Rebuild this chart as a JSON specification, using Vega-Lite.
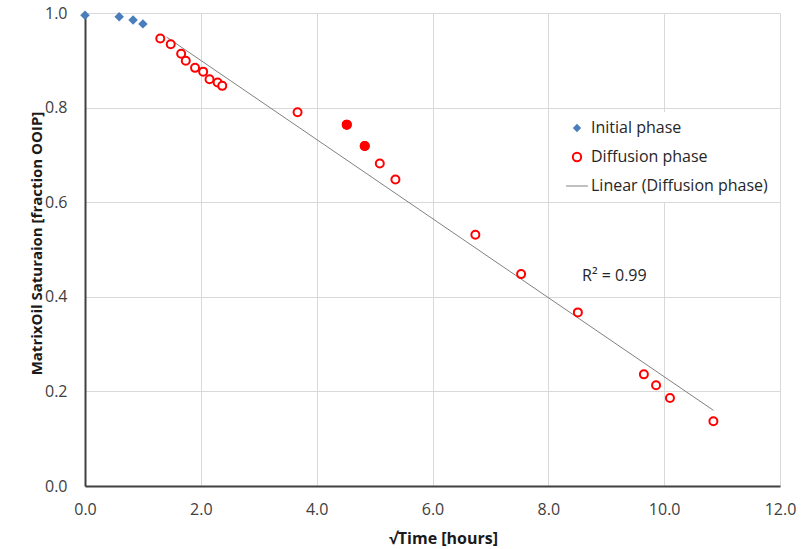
{
  "$schema": "https://vega.github.io/schema/vega-lite/v6.json",
  "width": 695,
  "height": 473,
  "autosize": "none",
  "padding": {"left": 85, "top": 13, "right": 25, "bottom": 63},
  "background": "white",
  "config": {
    "view": {"stroke": null},
    "font": "Open Sans",
    "axis": {
      "gridColor": "#d9d9d9",
      "gridWidth": 1,
      "domainColor": "#404040",
      "domainWidth": 2,
      "ticks": false,
      "labelFlush": false,
      "labelOverlap": false,
      "labelFont": "Open Sans",
      "labelFontSize": 16,
      "labelColor": "#404040",
      "titleFont": "Open Sans",
      "titleFontSize": 15,
      "titleFontWeight": "bold",
      "titleColor": "#1a1a1a"
    },
    "legend": {
      "orient": "none",
      "legendX": 476,
      "legendY": 99,
      "fillColor": "white",
      "padding": 8,
      "symbolSize": 70,
      "rowPadding": 12,
      "labelOffset": 6,
      "labelLimit": 400,
      "labelFont": "Open Sans",
      "labelFontSize": 16,
      "labelColor": "#262626",
      "title": null
    }
  },
  "datasets": {
    "points": [
      {"t": 0.0, "s": 0.995, "series": "Initial phase", "highlight": false},
      {"t": 0.59, "s": 0.992, "series": "Initial phase", "highlight": false},
      {"t": 0.83, "s": 0.985, "series": "Initial phase", "highlight": false},
      {"t": 1.0, "s": 0.977, "series": "Initial phase", "highlight": false},
      {"t": 1.30, "s": 0.946, "series": "Diffusion phase", "highlight": false},
      {"t": 1.48, "s": 0.934, "series": "Diffusion phase", "highlight": false},
      {"t": 1.66, "s": 0.914, "series": "Diffusion phase", "highlight": false},
      {"t": 1.74, "s": 0.899, "series": "Diffusion phase", "highlight": false},
      {"t": 1.90, "s": 0.884, "series": "Diffusion phase", "highlight": false},
      {"t": 2.04, "s": 0.876, "series": "Diffusion phase", "highlight": false},
      {"t": 2.15, "s": 0.860, "series": "Diffusion phase", "highlight": false},
      {"t": 2.29, "s": 0.853, "series": "Diffusion phase", "highlight": false},
      {"t": 2.37, "s": 0.846, "series": "Diffusion phase", "highlight": false},
      {"t": 3.67, "s": 0.790, "series": "Diffusion phase", "highlight": false},
      {"t": 4.52, "s": 0.764, "series": "Diffusion phase", "highlight": true},
      {"t": 4.83, "s": 0.719, "series": "Diffusion phase", "highlight": true},
      {"t": 5.09, "s": 0.682, "series": "Diffusion phase", "highlight": false},
      {"t": 5.36, "s": 0.648, "series": "Diffusion phase", "highlight": false},
      {"t": 6.74, "s": 0.531, "series": "Diffusion phase", "highlight": false},
      {"t": 7.53, "s": 0.448, "series": "Diffusion phase", "highlight": false},
      {"t": 8.51, "s": 0.367, "series": "Diffusion phase", "highlight": false},
      {"t": 9.65, "s": 0.236, "series": "Diffusion phase", "highlight": false},
      {"t": 9.86, "s": 0.213, "series": "Diffusion phase", "highlight": false},
      {"t": 10.10, "s": 0.186, "series": "Diffusion phase", "highlight": false},
      {"t": 10.85, "s": 0.137, "series": "Diffusion phase", "highlight": false}
    ],
    "trend": [
      {"t": 1.41, "s": 0.949},
      {"t": 10.85, "s": 0.160}
    ],
    "notes": [
      {"t": 9.14, "s": 0.443, "label": "R² = 0.99"}
    ]
  },
  "encoding": {
    "x": {"field": "t", "type": "quantitative",
      "scale": {"domain": [0, 12], "nice": false, "zero": false, "padding": 0},
      "axis": {"values": [0, 2, 4, 6, 8, 10, 12], "format": ".1f", "labelPadding": 15, "title": "√Time [hours]", "titleFontSize": 16, "titleX": 358, "titleY": 52, "titleBaseline": "middle", "titleAlign": "center"}},
    "y": {"field": "s", "type": "quantitative",
      "scale": {"domain": [0, 1], "nice": false, "zero": false, "padding": 0},
      "axis": {"values": [0, 0.2, 0.4, 0.6, 0.8, 1.0], "format": ".1f", "labelPadding": 18, "title": "MatrixOil Saturaion [fraction OOIP]", "titleX": -49, "titleY": 230, "titleBaseline": "middle", "titleAlign": "center", "titleAngle": -90}}
  },
  "layer": [
    {
      "data": {"name": "trend"},
      "mark": {"type": "line", "color": "#808080", "strokeWidth": 1}
    },
    {
      "data": {"name": "points"},
      "mark": {"type": "point", "opacity": 1},
      "encoding": {
        "shape": {"field": "series", "type": "nominal",
          "scale": {"domain": ["Initial phase", "Diffusion phase", "Linear (Diffusion phase)"], "range": ["diamond", "circle", "M-2.6,0H2.6"]}},
        "fill": {"field": "series", "type": "nominal",
          "scale": {"domain": ["Initial phase", "Diffusion phase", "Linear (Diffusion phase)"], "range": ["#4a7ebb", "#ffffff", "transparent"]}},
        "stroke": {"field": "series", "type": "nominal",
          "scale": {"domain": ["Initial phase", "Diffusion phase", "Linear (Diffusion phase)"], "range": ["#4a7ebb", "#ff0000", "#808080"]}},
        "strokeWidth": {"field": "series", "type": "nominal",
          "scale": {"type": "ordinal", "domain": ["Initial phase", "Diffusion phase", "Linear (Diffusion phase)"], "range": [0, 2, 1]}},
        "size": {"condition": {"test": "datum.series === 'Initial phase'", "value": 90}, "value": 64}
      }
    },
    {
      "data": {"name": "points"},
      "transform": [{"filter": "datum.highlight"}],
      "mark": {"type": "point", "shape": "circle", "filled": true, "color": "#ff0000", "opacity": 1, "size": 100}
    },
    {
      "data": {"name": "notes"},
      "mark": {"type": "text", "font": "Open Sans", "fontSize": 16, "color": "#262626", "align": "center", "baseline": "middle"},
      "encoding": {
        "text": {"field": "label"}
      }
    }
  ]
}
